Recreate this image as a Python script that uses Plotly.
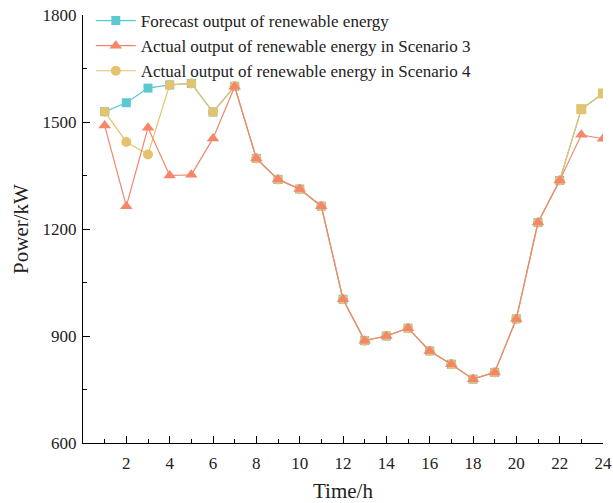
import plotly.graph_objects as go

hours = list(range(1, 25))
forecast = [1529, 1554, 1595, 1604, 1608, 1528, 1600, 1398, 1339, 1312, 1264, 1003,
            887, 900, 922, 858, 821, 779, 798, 948, 1218, 1336, 1536, 1580]
scenario3 = [1490, 1264, 1484, 1350, 1352, 1454, 1599, 1398, 1339, 1312, 1264, 1003,
             887, 900, 922, 858, 821, 779, 798, 948, 1218, 1336, 1464, 1453]
scenario4 = [1529, 1444, 1409, 1604, 1608, 1528, 1600, 1398, 1339, 1312, 1264, 1003,
             887, 900, 922, 858, 821, 779, 798, 948, 1218, 1336, 1536, 1580]
y_ticks = [600, 900, 1200, 1500, 1800]
x_ticks = list(range(2, 25, 2))

c_fc = "#5cc8cf"
c_s3 = "#f4866a"
c_s4 = "#e4c36e"
font_family = "Liberation Serif, Times New Roman, serif"

fig = go.Figure()
fig.add_trace(go.Scatter(x=hours, y=forecast, mode="lines+markers",
                         name="Forecast output of renewable energy",
                         line=dict(color=c_fc, width=1.2),
                         marker=dict(symbol="square", size=9, color=c_fc)))
s4_symbols = ["circle"] * 22 + ["square"] * 2
fig.add_trace(go.Scatter(x=hours, y=scenario4, mode="lines+markers",
                         name="Actual output of renewable energy in Scenario 4",
                         line=dict(color=c_s4, width=1.2),
                         marker=dict(symbol=s4_symbols, size=10, color=c_s4)))
fig.add_trace(go.Scatter(x=hours, y=scenario3, mode="lines+markers",
                         name="Actual output of renewable energy in Scenario 3",
                         line=dict(color=c_s3, width=1.2),
                         marker=dict(symbol="triangle-up", size=11, color=c_s3)))

fig.update_layout(
    width=613, height=503,
    margin=dict(l=83, r=10, t=15, b=60, autoexpand=False),
    plot_bgcolor="white", paper_bgcolor="white",
    font=dict(family=font_family, size=17, color="#222"),
    showlegend=True,
    legend=dict(x=0.015, y=1.028, xanchor="left", yanchor="top",
                bgcolor="rgba(0,0,0,0)", traceorder="normal",
                font=dict(size=17), itemwidth=40, tracegroupgap=0),
    xaxis=dict(range=[0, 24], tickvals=x_ticks, ticks="inside", ticklen=7,
               showline=True, linecolor="black", linewidth=1.2, showgrid=False,
               zeroline=False, tickcolor="black", automargin=False,
               ticklabelstandoff=4, ticklabeloverflow="allow",
               minor=dict(tickvals=list(range(1, 24, 2)), ticks="inside", ticklen=4,
                          tickcolor="black"),
               title=dict(text="Time/h", font=dict(size=21), standoff=15)),
    yaxis=dict(range=[600, 1800], tickvals=y_ticks, ticks="inside", ticklen=7,
               showline=True, linecolor="black", linewidth=1.2, showgrid=False,
               zeroline=False, tickcolor="black", automargin=False,
               ticklabelstandoff=2, ticklabeloverflow="allow",
               minor=dict(tickvals=[750, 1050, 1350, 1650], ticks="inside", ticklen=4,
                          tickcolor="black"),
               title=dict(text="Power/kW", font=dict(size=21), standoff=8)),
)

fig.data[0].legendrank = 1
fig.data[2].legendrank = 2
fig.data[1].legendrank = 3

# remove the default 8px page margin so the 613x503 figure fills the window
fig.write_html("out.html",
               config={"displayModeBar": False},
               post_script="document.body.style.margin='0';document.body.style.overflow='hidden';")
